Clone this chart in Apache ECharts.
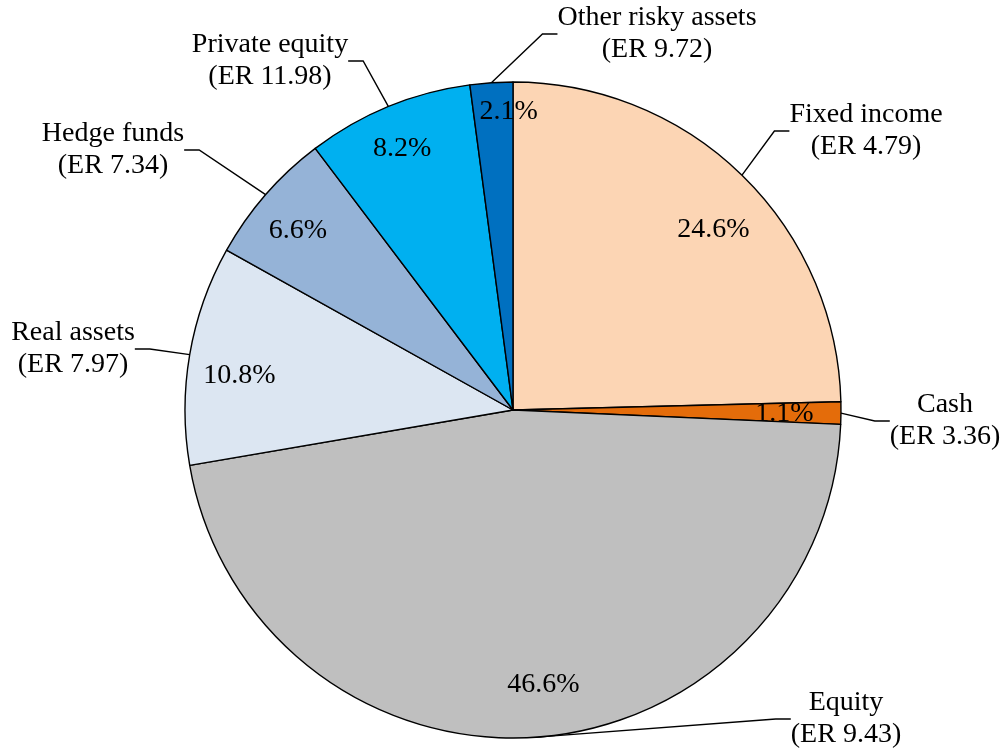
<!DOCTYPE html>
<html>
<head>
<meta charset="utf-8">
<script src="https://cdn.jsdelivr.net/npm/echarts@6/dist/echarts.min.js"></script>
<style>
  html, body { margin: 0; padding: 0; background: #fff; }
  #chart { width: 1005px; height: 751px; }
</style>
</head>
<body>
<div id="chart"></div>
<script>
  // slices, clockwise from 12 o'clock
  const names = ['Fixed income', 'Cash', 'Equity', 'Real assets', 'Hedge funds', 'Private equity', 'Other risky assets']
  const er = ['4.79', '3.36', '9.43', '7.97', '7.34', '11.98', '9.72']
  const shares = [24.6, 1.1, 46.6, 10.8, 6.6, 8.2, 2.1]
  const colors = ['#FCD5B4', '#E46C0A', '#BFBFBF', '#DCE6F2', '#95B3D7', '#00B0F0', '#0070C0']

  // where the outer labels sit (centre of the two-line block)
  const labelPos = [
    [866, 131],
    [945, 421],
    [846, 719],
    [73, 349],
    [113, 150],
    [270, 61],
    [657, 34],
  ]
  // small nudges of the percentage labels
  const pctNudge = [
    [6, 19],
    [-7, 1],
    [13, -3],
    [1, 13],
    [-5, 4],
    [-5, -4],
    [14, -20],
  ]

  const center = [513, 410]
  const R = 328
  const font = 'Liberation Serif, Times New Roman, serif'

  const chart = echarts.init(document.getElementById('chart'))

  const option = {
    animation: false,
    series: [
      {
        type: 'pie',
        center: center,
        radius: [0, R],
        startAngle: 90,
        clockwise: true,
        avoidLabelOverlap: false,
        emphasis: { disabled: true },
        itemStyle: { borderColor: '#000', borderWidth: 1.4 },
        label: {
          show: true,
          position: 'outside',
          fontFamily: font,
          fontSize: 28,
          lineHeight: 32,
          color: '#000',
          align: 'center',
          formatter: (p) => p.name + '\n(ER ' + er[p.dataIndex] + ')',
        },
        labelLine: {
          show: true,
          length: 10,
          length2: 15,
          lineStyle: { color: '#000', width: 1.4 },
        },
        labelLayout: (p) => ({
          x: labelPos[p.dataIndex][0],
          y: labelPos[p.dataIndex][1],
          align: 'center',
          verticalAlign: 'middle',
        }),
        data: names.map((n, i) => ({
          name: n,
          value: shares[i],
          itemStyle: { color: colors[i] },
        })),
      },
      {
        // percentage labels only
        type: 'pie',
        center: center,
        radius: [R * 0.74, R * 0.94],
        startAngle: 90,
        clockwise: true,
        silent: true,
        emphasis: { disabled: true },
        itemStyle: { color: 'rgba(0,0,0,0)', borderWidth: 0 },
        label: {
          show: true,
          position: 'inside',
          fontFamily: font,
          fontSize: 28,
          color: '#000',
          formatter: (p) => shares[p.dataIndex].toFixed(1) + '%',
        },
        labelLine: { show: false },
        labelLayout: (p) => ({
          dx: pctNudge[p.dataIndex][0],
          dy: pctNudge[p.dataIndex][1],
        }),
        data: names.map((n, i) => ({ name: n, value: shares[i] })),
      },
    ],
  }

  chart.setOption(option)
</script>
</body>
</html>
